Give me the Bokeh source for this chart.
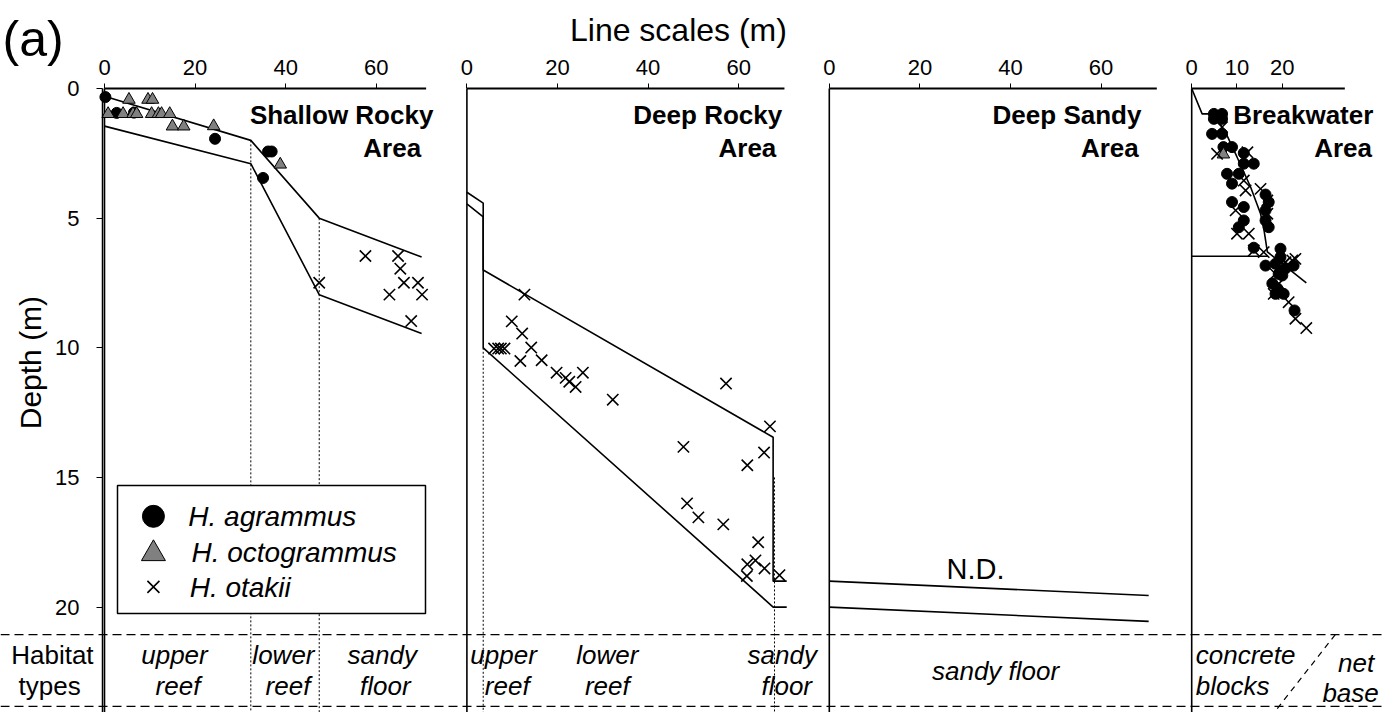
import math
from bokeh.plotting import figure
from bokeh.models import Range1d, FixedTicker, Label
from bokeh.embed import file_html
from bokeh.resources import INLINE

FONT = "Liberation Sans"

# ---------------- data: local line scale (m) and depth (m) ----------------
panel_offsets = [0, 80, 160, 240]
panel_axis_len = [71.0, 70.1, 72.3, 33.8]
panel_ticks = [[0, 20, 40, 60], [0, 20, 40, 60], [0, 20, 40, 60], [0, 10, 20]]
depth_ticks = [0, 5, 10, 15, 20]

# Shallow Rocky Area
sr_upper_x = [0, 32.3, 47.4, 70.0]
sr_upper_d = [0.3, 2.0, 5.0, 6.5]
sr_lower_x = [0, 32.3, 47.4, 70.0]
sr_lower_d = [1.45, 2.9, 7.95, 9.45]
sr_agr_x = [0.2, 2.7, 6.5, 24.4, 36.1, 36.9, 35.0]
sr_agr_d = [0.33, 0.94, 0.93, 1.94, 2.43, 2.43, 3.45]
sr_oct_x = [5.4, 9.6, 10.6, 0.8, 4.1, 6.3, 7.1, 10.4, 11.9, 12.6, 14.4, 15.0, 17.5, 24.1, 38.8]
sr_oct_d = [0.43, 0.43, 0.43, 0.98, 0.98, 0.98, 0.98, 0.98, 0.98, 0.98, 0.98, 1.46, 1.46, 1.45, 2.93]
sr_ota_x = [57.6, 64.8, 65.3, 66.1, 69.2, 47.4, 62.9, 70.1, 67.7]
sr_ota_d = [6.46, 6.46, 6.95, 7.49, 7.49, 7.49, 7.95, 7.95, 8.97]

# Deep Rocky Area
dr_upper_x = [0, 3.6, 3.6, 67.6, 67.6, 70.6]
dr_upper_d = [4.0, 4.42, 7.0, 13.45, 19.0, 19.0]
dr_lower_x = [0, 3.6, 3.6, 67.6, 70.6]
dr_lower_d = [4.45, 4.95, 10.0, 20.0, 20.0]
dr_ota_x = [12.7, 9.9, 12.2, 14.2, 6.0, 6.9, 7.5, 8.3, 11.8, 16.5, 19.8, 21.8, 22.6, 24.0,
            25.6, 32.2, 57.2, 66.9, 65.6, 61.9, 47.8, 48.6, 51.1, 56.6, 64.3, 61.9, 63.7,
            65.7, 61.8, 69.0]
dr_ota_d = [7.95, 8.98, 9.45, 9.99, 10.03, 10.03, 10.03, 10.03, 10.51, 10.48, 10.96, 11.16,
            11.31, 11.51, 10.96, 12.0, 11.38, 13.03, 14.04, 14.53, 13.82, 16.0, 16.54, 16.81,
            17.5, 18.35, 18.2, 18.51, 18.8, 18.77]

# Deep Sandy Area (no fish: N.D.)
ds_upper_x = [0, 70.5]
ds_upper_d = [19.0, 19.55]
ds_lower_x = [0, 70.5]
ds_lower_d = [20.0, 20.55]

# Breakwater Area
bw_face_x = [0, 2.3, 4.9, 7.5, 10.0, 13.0, 15.2, 16.0, 16.7, 25.3]
bw_face_d = [0, 0.98, 0.98, 1.7, 2.64, 3.80, 4.83, 5.5, 6.3, 7.5]
bw_base_x = [0, 16.8]
bw_base_d = [6.47, 6.47]
bw_agr_x = [4.9, 6.7, 4.9, 6.7, 4.5, 6.7, 7.0, 8.9, 11.5, 11.5, 13.7, 7.8, 10.4, 8.9, 8.9,
            11.5, 16.3, 17.0, 16.3, 16.3, 17.0, 10.4, 11.5, 13.7, 16.3, 19.6, 19.6, 18.5,
            22.5, 19.2, 20.0, 18.5, 20.3, 22.7, 18.9, 20.7, 17.8]
bw_agr_d = [0.98, 0.98, 1.17, 1.17, 1.75, 1.75, 2.26, 2.26, 2.49, 2.9, 2.9, 3.29, 3.29, 3.67,
            4.38, 4.57, 4.09, 4.38, 4.70, 5.09, 5.35, 5.35, 5.09, 6.14, 6.83, 6.18, 6.5, 6.76,
            6.83, 7.15, 7.21, 7.92, 7.92, 8.56, 7.71, 6.94, 7.52]
bw_oct_x = [7.0]
bw_oct_d = [2.54]
bw_ota_x = [6.7, 5.6, 12.3, 11.5, 11.9, 15.2, 16.7, 9.7, 16.7, 10.0, 12.6, 13.7, 15.9, 22.2,
            20.7, 20.3, 22.9, 18.5, 19.2, 18.1, 21.4, 22.9, 25.3]
bw_ota_d = [1.49, 2.52, 2.46, 3.55, 3.93, 3.87, 4.32, 4.70, 4.83, 5.6, 5.6, 6.25, 6.31, 6.63,
            6.70, 6.76, 6.57, 7.15, 7.53, 7.92, 8.24, 8.88, 9.24]

# dotted habitat boundaries: (panel, x, top depth)
dot_panel = [0, 0, 1, 1]
dot_x = [32.3, 47.4, 3.6, 67.9]
dot_top = [2.0, 5.0, 10.0, 15.0]

habitat_row_top = 21.06
habitat_row_bottom = 23.83

# ---------------- figure (frame covers the whole canvas) ----------------
X0, X1 = -22.958, 282.34
Y_BOTTOM, Y_TOP = 24.065, -3.394

p = figure(width=1383, height=712, output_backend="svg", toolbar_location=None,
           x_range=Range1d(X0, X1), y_range=Range1d(Y_BOTTOM, Y_TOP),
           x_axis_location="above", title=None,
           min_border_left=0, min_border_top=0, min_border_right=0, min_border_bottom=0)
p.grid.visible = False
p.outline_line_color = None
p.background_fill_color = "white"


def gx(panel, xs):
    return [panel_offsets[panel] + v for v in xs]


# top axis: one axis, tick labels relative to each panel
ticks, overrides = [], {}
for k, tl in enumerate(panel_ticks):
    for t in tl:
        ticks.append(panel_offsets[k] + t)
        overrides[panel_offsets[k] + t] = str(t)
xa = p.xaxis[0]
xa.fixed_location = 0
xa.ticker = FixedTicker(ticks=ticks)
xa.major_label_overrides = overrides
xa.axis_line_color = None
xa.major_tick_out = 5
xa.major_tick_in = 0
xa.minor_tick_out = 0
xa.minor_tick_in = 0
xa.major_tick_line_color = "black"
xa.major_label_text_font = FONT
xa.major_label_text_font_size = "22px"
xa.major_label_text_color = "black"
xa.major_label_standoff = 9

ya = p.yaxis[0]
ya.fixed_location = -0.44
ya.bounds = (0, Y_BOTTOM)
ya.ticker = FixedTicker(ticks=depth_ticks)
ya.axis_line_color = "black"
ya.axis_line_width = 1.5
ya.major_tick_out = 6
ya.major_tick_in = 0
ya.minor_tick_out = 0
ya.minor_tick_in = 0
ya.major_tick_line_color = "black"
ya.major_label_text_font = FONT
ya.major_label_text_font_size = "22px"
ya.major_label_text_color = "black"
ya.major_label_standoff = 17

# panel top axis lines and left boundary lines
p.segment(x0=panel_offsets, y0=[0] * 4,
          x1=[o + l for o, l in zip(panel_offsets, panel_axis_len)], y1=[0] * 4,
          line_color="black", line_width=2)
p.segment(x0=panel_offsets, y0=[0] * 4, x1=panel_offsets, y1=[Y_BOTTOM + 1] * 4,
          line_color="black", line_width=1.6)

# dotted habitat boundaries
p.segment(x0=[panel_offsets[k] + x for k, x in zip(dot_panel, dot_x)], y0=dot_top,
          x1=[panel_offsets[k] + x for k, x in zip(dot_panel, dot_x)], y1=[Y_BOTTOM + 1] * 4,
          line_color="black", line_width=1, line_dash="2 2")

# dashed habitat row lines
p.segment(x0=[X0, X0], y0=[habitat_row_top, habitat_row_bottom],
          x1=[X1, X1], y1=[habitat_row_top, habitat_row_bottom],
          line_color="black", line_width=1.3, line_dash="9 5")

# diagonal dashed divider in breakwater habitat cell
p.line(gx(3, [31.7, 18.5]), [21.06, 24.0], line_color="black", line_width=1.2,
       line_dash="6 5")

# profile lines
LW = 1.6
p.line(gx(0, sr_upper_x), sr_upper_d, line_color="black", line_width=LW)
p.line(gx(0, sr_lower_x), sr_lower_d, line_color="black", line_width=LW)
p.line(gx(1, dr_upper_x), dr_upper_d, line_color="black", line_width=LW)
p.line(gx(1, dr_lower_x), dr_lower_d, line_color="black", line_width=LW)
p.line(gx(2, ds_upper_x), ds_upper_d, line_color="black", line_width=LW)
p.line(gx(2, ds_lower_x), ds_lower_d, line_color="black", line_width=LW)
p.line(gx(3, bw_face_x), bw_face_d, line_color="black", line_width=LW)
p.line(gx(3, bw_base_x), bw_base_d, line_color="black", line_width=LW)

# fish observations
agr_x = gx(0, sr_agr_x) + gx(3, bw_agr_x)
agr_d = sr_agr_d + bw_agr_d
oct_x = gx(0, sr_oct_x) + gx(3, bw_oct_x)
oct_d = sr_oct_d + bw_oct_d
ota_x = gx(0, sr_ota_x) + gx(1, dr_ota_x) + gx(3, bw_ota_x)
ota_d = sr_ota_d + dr_ota_d + bw_ota_d

p.scatter(agr_x, agr_d, marker="circle", size=11, fill_color="black", line_color="black")
p.scatter(oct_x, oct_d, marker="triangle", size=12.5, fill_color="#808080", line_color="black",
          line_width=1)
p.scatter(ota_x, ota_d, marker="x", size=16, line_color="black", line_width=1.6)

# legend (drawn manually to match the marker sizes of the original)
leg_names = ["H. agrammus", "H. octogrammus", "H. otakii"]
leg_marker = ["circle", "triangle", "x"]
leg_size = [22, 24, 17]
leg_fill = ["black", "#808080", "black"]
leg_d = [16.5, 17.94, 19.22]
leg_text_x = [18.5, 19.2, 18.8]
leg_text_d = [16.5, 17.9, 19.24]
p.quad(left=[2.87], right=[70.86], top=[15.31], bottom=[20.25], fill_color="white",
       line_color="black", line_width=1.5)
for m, s, f, dd in zip(leg_marker, leg_size, leg_fill, leg_d):
    p.scatter([10.8], [dd], marker=m, size=s, fill_color=f, line_color="black",
              line_width=1.6 if m == "x" else 1)
for t, tx, td in zip(leg_names, leg_text_x, leg_text_d):
    p.add_layout(Label(x=tx, y=td, text=t, text_font=FONT, text_font_size="28px",
                       text_font_style="italic", text_align="left", text_baseline="middle",
                       text_color="black"))

# panel titles
title_lines = [("Shallow Rocky", "Area"), ("Deep Rocky", "Area"), ("Deep Sandy", "Area"),
               ("Breakwater", "Area")]
title_right = [(72.6, 69.9), (69.6, 68.3), (68.9, 68.3), (40.1, 39.8)]
for k, (lines, rights) in enumerate(zip(title_lines, title_right)):
    for t, r, dd in zip(lines, rights, [1.04, 2.31]):
        p.add_layout(Label(x=panel_offsets[k] + r, y=dd, text=t, text_font=FONT,
                           text_font_size="26px", text_font_style="bold", text_align="right",
                           text_baseline="middle", text_color="black"))

p.add_layout(Label(x=192.3, y=18.55, text="N.D.", text_font=FONT, text_font_size="29px",
                   text_align="center", text_baseline="middle", text_color="black"))

# habitat row texts
hab_text = ["upper", "reef", "lower", "reef", "sandy", "floor",
            "upper", "reef", "lower", "reef", "sandy", "floor",
            "sandy floor", "net"]
hab_x = [15.45, 16.23, 39.5, 40.5, 61.3, 62.0,
         88.1, 88.9, 111.0, 111.0, 149.6, 150.6,
         196.7, 276.3]
hab_d = [21.83, 23.06, 21.83, 23.06, 21.83, 23.06,
         21.83, 23.06, 21.83, 23.06, 21.83, 23.06,
         22.45, 22.14]
for t, hx, hd in zip(hab_text, hab_x, hab_d):
    p.add_layout(Label(x=hx, y=hd, text=t, text_font=FONT, text_font_size="26px",
                       text_font_style="italic", text_align="center", text_baseline="middle",
                       text_color="black"))
p.add_layout(Label(x=281.3, y=23.33, text="base", text_font=FONT, text_font_size="26px",
                   text_font_style="italic", text_align="right", text_baseline="middle",
                   text_color="black"))
for t, hd in zip(["concrete", "blocks"], [21.83, 23.06]):
    p.add_layout(Label(x=240.9, y=hd, text=t, text_font=FONT, text_font_size="26px",
                       text_font_style="italic", text_align="left", text_baseline="middle",
                       text_color="black"))
for t, hx, hd in zip(["Habitat", "types"], [-11.5, -12.1], [21.83, 23.06]):
    p.add_layout(Label(x=hx, y=hd, text=t, text_font=FONT, text_font_size="26px",
                       text_align="center", text_baseline="middle", text_color="black"))

# axis titles and panel tag
p.add_layout(Label(x=126.7, y=-2.24, text="Line scales (m)", text_font=FONT,
                   text_font_size="32px", text_align="center", text_baseline="middle",
                   text_color="black"))
p.add_layout(Label(x=-16.3, y=10.57, text="Depth (m)", text_font=FONT, text_font_size="30px",
                   angle=math.pi / 2, text_align="center", text_baseline="middle",
                   text_color="black"))
p.add_layout(Label(x=-22.5, y=-1.9, text="(a)", text_font=FONT, text_font_size="50px",
                   text_align="left", text_baseline="middle", text_color="black"))

open("out.html", "w").write(file_html(p, INLINE))
